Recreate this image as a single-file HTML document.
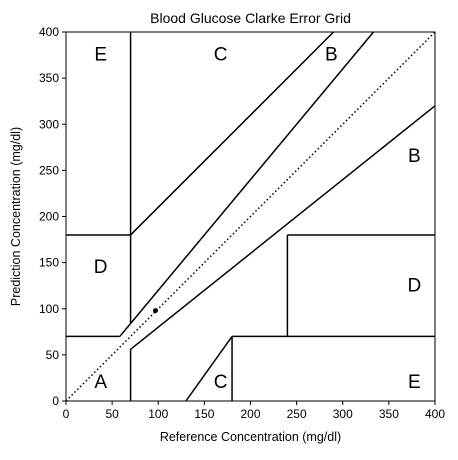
<!DOCTYPE html>
<html><head><meta charset="utf-8"><style>body{margin:0;background:#fff}svg{font-family:"Liberation Sans",sans-serif}</style></head>
<body>
<svg id="chart" width="458" height="455" xmlns="http://www.w3.org/2000/svg"></svg>
<script>
const xTicks=[0,50,100,150,200,250,300,350,400];
const yTicks=[0,50,100,150,200,250,300,350,400];
const gridSegments=[[0,70,175/3,70],[175/3,70,400/1.2,400],[70,84,70,400],[0,180,70,180],[70,180,290,400],[70,0,70,56],[70,56,400,320],[180,0,180,70],[180,70,400,70],[240,70,240,180],[240,180,400,180],[130,0,180,70]];
const zoneLabels=["A","B","B","C","C","D","D","E","E"];
const zoneX=[30,370,280,160,160,30,370,30,370];
const zoneY=[15,260,370,370,15,140,120,370,15];
const pointX=[97];
const pointY=[98];
const L=66,R=435,T=32,B=401;
const sx=v=>L+(v/400)*(R-L), sy=v=>B-(v/400)*(B-T);
const svg=document.getElementById('chart');const NS='http://www.w3.org/2000/svg';
function mk(t,a,p){const e=document.createElementNS(NS,t);for(const k in a)e.setAttribute(k,a[k]);(p||svg).appendChild(e);return e;}
let e;
e=mk('line',{x1:sx(0),y1:sy(0),x2:sx(400),y2:sy(400),stroke:'#000','stroke-width':1.5,'stroke-dasharray':'1.5,2.5'});


gridSegments.forEach(s=>{e=mk('line',{x1:sx(s[0]),y1:sy(s[1]),x2:sx(s[2]),y2:sy(s[3]),stroke:'#000','stroke-width':1.5});

});
pointX.forEach((v,i)=>{e=mk('circle',{cx:sx(v),cy:sy(pointY[i]),r:2.5,fill:'#000'});

});
zoneLabels.forEach((t,i)=>{e=mk('text',{x:sx(zoneX[i])+7,y:sy(zoneY[i])+1,'font-size':19,'text-anchor':'middle'});e.textContent=t;

});
e=mk('rect',{x:L,y:T,width:R-L,height:B-T,fill:'none',stroke:'#000','stroke-width':1});


xTicks.forEach(v=>{mk('line',{x1:sx(v),y1:B,x2:sx(v),y2:B+4,stroke:'#000'});e=mk('text',{x:sx(v),y:B+17,'font-size':12,'text-anchor':'middle'});e.textContent=v;

});
yTicks.forEach(v=>{mk('line',{x1:L-4,y1:sy(v),x2:L,y2:sy(v),stroke:'#000'});e=mk('text',{x:L-7,y:sy(v)+4,'font-size':12,'text-anchor':'end'});e.textContent=v;

});
e=mk('text',{x:(L+R)/2,y:23,'font-size':14,'text-anchor':'middle'});e.textContent='Blood Glucose Clarke Error Grid';


e=mk('text',{x:(L+R)/2,y:441,'font-size':12.5,'text-anchor':'middle'});e.textContent='Reference Concentration (mg/dl)';


e=mk('text',{x:0,y:0,'font-size':12.5,'text-anchor':'middle',transform:'translate(20,'+((T+B)/2)+') rotate(-90)'});e.textContent='Prediction Concentration (mg/dl)';


</script>
</body></html>
